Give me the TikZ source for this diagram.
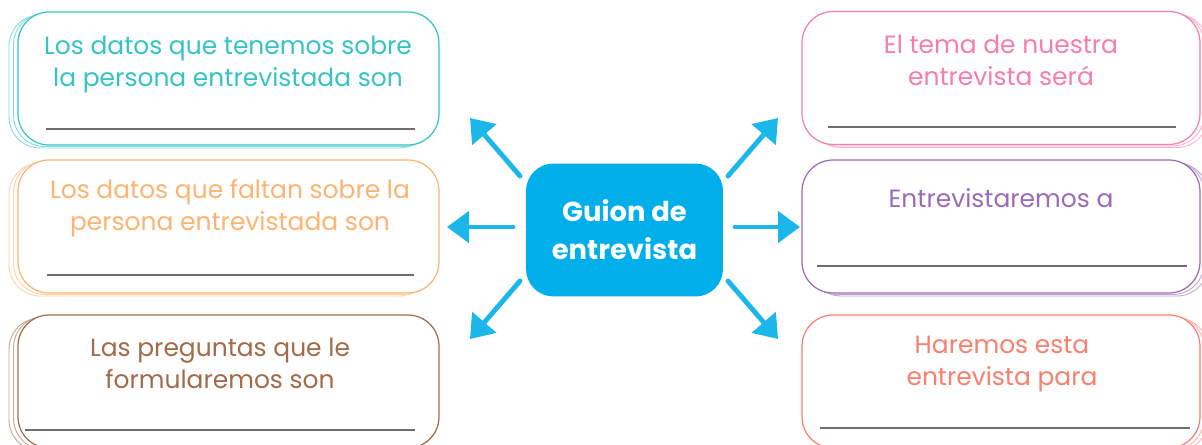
\documentclass[tikz,border=0pt]{standalone}
\usepackage{fontspec}
\setmainfont{Poppins}
\usetikzlibrary{arrows.meta}
\definecolor{cteal}{HTML}{35C3C6}
\definecolor{corange}{HTML}{FDB472}
\definecolor{cbrown}{HTML}{A26B4A}
\definecolor{cpink}{HTML}{F57DAF}
\definecolor{cpurple}{HTML}{9A6BB6}
\definecolor{csalmon}{HTML}{F7806F}
\definecolor{cblue}{HTML}{00AEEA}
\definecolor{carrow}{HTML}{1BB7EA}
\definecolor{cline}{HTML}{6E6E6E}
\tikzset{
  card/.style={draw=#1, line width=0.7pt, fill=white, rounded corners=0.62cm, minimum width=8.42cm, minimum height=2.66cm, inner sep=0pt},
  rcard/.style={card=#1, minimum width=7.96cm},
  ghost/.style={draw=#1!60, line width=0.5pt, fill=white, rounded corners=0.62cm, minimum width=8.42cm, minimum height=2.66cm, inner sep=0pt},
  rghost/.style={ghost=#1, minimum width=7.96cm},
  txt/.style={text=#1, font=\fontsize{14.2}{18.2}\selectfont, align=center, inner sep=0pt},
  rule/.style={draw=cline, line width=0.8pt},
  hub/.style={fill=cblue, rounded corners=0.55cm, minimum width=3.94cm, minimum height=2.66cm, text=white, font=\fontsize{15.6}{21.5}\selectfont\bfseries, align=center},
  arr/.style={draw=carrow, line width=2.8pt, line cap=round, -{Triangle[length=0.44cm, width=0.62cm]}}
}
\begin{document}
\begin{tikzpicture}[x=0.02cm, y=-0.02cm]
\useasboundingbox (0,0) rectangle (1202,445);
% ghosts
\foreach \yy/\cc in {78.5/cteal, 226.5/corange, 381.5/cbrown}{
  \node[ghost=\cc] at (219.5,\yy+3) {};
  \node[ghost=\cc] at (224,\yy+1.5) {};
}
\foreach \yy/\cc in {78/cpink, 226.5/cpurple, 381.5/csalmon}{
  \node[rghost=\cc] at (1009,\yy+3) {};
  \node[rghost=\cc] at (1005,\yy+1.5) {};
}
% main cards
\node[card=cteal] (b1) at (228.5,78.5) {};
\node[card=corange] (b2) at (228.5,226.5) {};
\node[card=cbrown] (b3) at (228.5,381.5) {};
\node[rcard=cpink] (b4) at (1001,78) {};
\node[rcard=cpurple] (b5) at (1001,226.5) {};
\node[rcard=csalmon] (b6) at (1001,381.5) {};
% texts
\node[txt=cteal] (t1) at (228,65) {Los datos que tenemos sobre\\la persona entrevistada son};
\node[txt=corange] (t2) at (230,208) {Los datos que faltan sobre la\\persona entrevistada son};
\node[txt=cbrown] (t3) at (220,363) {Las preguntas que le\\formularemos son};
\node[txt=cpink] (t4) at (1001,60) {El tema de nuestra\\entrevista será};
\node[txt=cpurple] (t5) at (1001,198) {Entrevistaremos a};
\node[txt=csalmon] (t6) at (1002,364) {Haremos esta\\entrevista para};
% rules
\draw[rule] (46,129) -- (415,129);
\draw[rule] (47,275) -- (414,275);
\draw[rule] (25,430) -- (415,430);
\draw[rule] (828,127) -- (1176,127);
\draw[rule] (817,266) -- (1187,266);
\draw[rule] (820,428) -- (1190,428);
% hub
\node[hub] (c) at (624.5,230) {Guion de\\entrevista};
% arrows
\coordinate (s1) at (520,176); \coordinate (e1) at (470,118);
\coordinate (s2) at (513,227); \coordinate (e2) at (447,227);
\coordinate (s3) at (520,281); \coordinate (e3) at (470,339);
\coordinate (s4) at (728,176); \coordinate (e4) at (778,118);
\coordinate (s5) at (735,227); \coordinate (e5) at (800,227);
\coordinate (s6) at (728,281); \coordinate (e6) at (778,339);
\foreach \i in {1,...,6}{ \draw[arr] (s\i) -- (e\i); }
\end{tikzpicture}
\end{document}
